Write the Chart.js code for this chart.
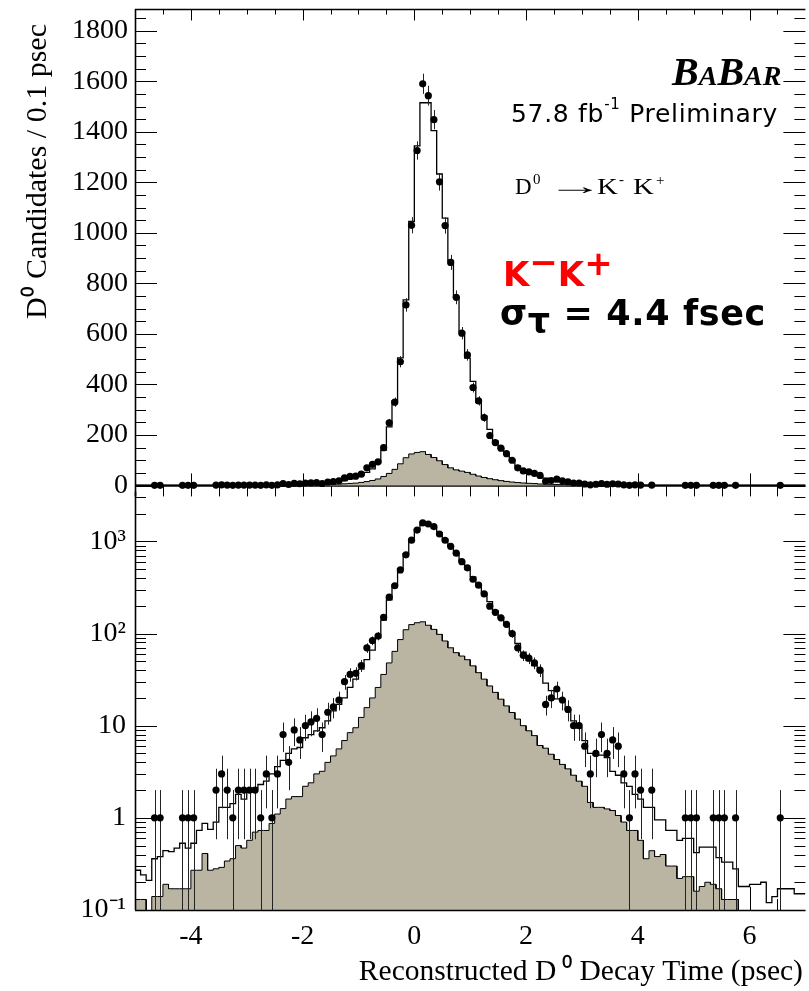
<!DOCTYPE html>
<html><head><meta charset="utf-8">
<script src="https://cdn.jsdelivr.net/npm/chart.js@4.4.1/dist/chart.umd.min.js"></script>
<style>
html,body{margin:0;padding:0;background:#fff;}
#wrap{position:relative;width:809px;height:991px;overflow:hidden;background:#fff;}
#p1{position:absolute;left:0;top:0;width:809px;height:500px;}
#p2{position:absolute;left:0;top:490px;width:809px;height:501px;}
.ann{position:absolute;white-space:nowrap;line-height:1;color:#000;}
.pc{position:absolute;display:block;white-space:nowrap;line-height:1;font-family:'Liberation Serif';color:#000;transform-origin:0 50%;}
</style></head>
<body><div id="wrap">
<div id="p1"><canvas id="c1"></canvas></div>
<div id="p2"><canvas id="c2"></canvas></div>

<div class="ann" style="left:672px;top:48px;font:italic bold 40px 'Liberation Serif';">B<span style="font-size:28px">A</span>B<span style="font-size:28px">AR</span></div>
<div class="ann" style="left:511px;top:99px;font:25px 'DejaVu Sans';letter-spacing:0.7px;">57.8 fb<span style="font-size:15px;position:relative;top:-13px">-1</span> Preliminary</div>

<span class="pc" style="left:515px;top:175px;font-size:23px;">D</span>
<span class="pc" style="left:533px;top:172px;font-size:15px;">0</span>
<span class="pc" style="left:547px;top:174px;font-size:24px;transform:scaleX(2.35);">→</span>
<span class="pc" style="left:597px;top:175px;font-size:23px;transform:scaleX(1.25);">K</span>
<span class="pc" style="left:619px;top:172px;font-size:15px;">-</span>
<span class="pc" style="left:633px;top:175px;font-size:23px;transform:scaleX(1.25);">K</span>
<span class="pc" style="left:656px;top:173px;font-size:15px;">+</span>

<div class="ann" style="left:503px;top:254px;font:bold 34px 'DejaVu Sans';color:#f00;">K<span style="position:relative;top:-12px">−</span>K<span style="position:relative;top:-11px">+</span></div>
<div class="ann" style="left:500px;top:293px;font:bold 35px 'DejaVu Sans';letter-spacing:0.6px;">σ<span style="position:relative;top:8px">τ</span> = 4.4 fsec</div>
</div>
<script>
// ---- data (bins of 0.1 psec) ----
const binCenters = [-4.95,-4.85,-4.75,-4.65,-4.55,-4.45,-4.35,-4.25,-4.15,-4.05,
 -3.95,-3.85,-3.75,-3.65,-3.55,-3.45,-3.35,-3.25,-3.15,-3.05,
 -2.95,-2.85,-2.75,-2.65,-2.55,-2.45,-2.35,-2.25,-2.15,-2.05,
 -1.95,-1.85,-1.75,-1.65,-1.55,-1.45,-1.35,-1.25,-1.15,-1.05,
 -0.95,-0.85,-0.75,-0.65,-0.55,-0.45,-0.35,-0.25,-0.15,-0.05,
 0.05,0.15,0.25,0.35,0.45,0.55,0.65,0.75,0.85,0.95,
 1.05,1.15,1.25,1.35,1.45,1.55,1.65,1.75,1.85,1.95,
 2.05,2.15,2.25,2.35,2.45,2.55,2.65,2.75,2.85,2.95,
 3.05,3.15,3.25,3.35,3.45,3.55,3.65,3.75,3.85,3.95,
 4.05,4.15,4.25,4.35,4.45,4.55,4.65,4.75,4.85,4.95,
 5.05,5.15,5.25,5.35,5.45,5.55,5.65,5.75,5.85,5.95,
 6.05,6.15,6.25,6.35,6.45,6.55,6.65,6.75,6.85,6.95];

const dataCounts = [0,0,0,1,1,0,0,0,1,1,
 1,0,0,0,2,3,2,1,2,2,
 2,2,1,3,1,3,8,4,9,7,
 10,11,12,8,14,16,19,30,36,37,
 45,70,84,94,150,248,330,490,715,1030,
 1326,1590,1543,1448,1202,1029,883,745,603,517,
 388,335,269,198,170,148,126,100,70,58,
 54,48,40,17,20,25,19,15,10,10,
 6,3,5,8,5,7,6,3,1,3,
 2,0,2,0,0,0,0,0,1,1,
 1,0,0,1,1,1,0,1,0,0,
 0,0,0,0,0,1,0,0,0,0];

const totalFit = [0.27,0.24,0.21,0.36,0.38,0.44,0.43,0.47,0.53,0.47,
 0.53,0.73,0.87,0.75,0.9,1.3,1.3,1.43,1.8,1.6,
 1.9,2.1,2.3,2.5,3.0,3.6,4.2,5.0,5.6,5.8,
 7.4,8.0,8.8,9.5,11.3,14.5,17,20,26,32,
 41,52,66,90,140,232,335,505,735,1045,
 1344,1515,1515,1405,1233,1058,891,747,609,504,
 412,330,275,222,176,148,125,101,78,63,
 51,45,39,29,24,19.5,19,15,11.3,9.5,
 6.9,5.0,4.8,4.8,4.5,3.2,2.9,2.4,2.2,1.8,
 1.6,1.3,1.3,0.95,0.95,0.73,0.73,0.57,0.6,0.6,
 0.42,0.48,0.48,0.48,0.37,0.33,0.33,0.28,0.18,0.18,
 0.19,0.19,0.2,0.12,0.14,0.17,0.17,0.17,0.15,0.15];

const background = [0.13,0.13,0,0.14,0.14,0.19,0.17,0.17,0.17,0.17,
 0.27,0.27,0.41,0.27,0.28,0.29,0.34,0.36,0.5,0.47,
 0.57,0.7,0.73,0.73,0.87,1.1,1.26,1.6,1.7,1.7,
 2.2,2.4,3.0,3.2,4.0,4.7,5.6,6.9,8.4,9.5,
 12.3,15.7,20,26,36,48,64,86,110,125,
 131,134,123,111,98,83,70,62,57,52,
 44.6,37.6,32,27,23,19.4,16.4,13.9,11.8,10,
 8.8,7.8,6.1,5.7,4.9,4.3,3.8,3.4,2.9,2.5,
 2.2,1.47,1.3,1.3,1.25,1.2,1.06,0.9,0.73,0.73,
 0.57,0.36,0.44,0.38,0.4,0.3,0.3,0.22,0.23,0.23,
 0.16,0.18,0.2,0.19,0.17,0.13,0.13,0.13,0,0,
 0,0,0,0,0,0,0,0,0,0];

const binHalfWidth = 0.05;
const linTicks = [0,200,400,600,800,1000,1200,1400,1600,1800];
const linTickLabels = ['0','200','400','600','800','1000','1200','1400','1600','1800'];
const logTicks = [0.1,1,10,100,1000];
const logTickLabels = ['10⁻¹','1','10','10²','10³'];
const xTicks = [-4,-2,0,2,4,6];
const xTickLabels = ['-4','-2','0','2','4','6'];
const yTitle = 'D⁰ Candidates / 0.1 psec  ';
const xTitle = 'Reconstructed D\u2009⁰ Decay Time (psec)\u200A';

// ---- helpers building library data ----
function stepPoints(values, floor) {
  const pts = [];
  binCenters.forEach((c, i) => {
    let v = values[i];
    if (floor !== undefined && v <= 0) v = floor;
    pts.push({x: +(c - binHalfWidth).toFixed(3), y: v});
    pts.push({x: +(c + binHalfWidth).toFixed(3), y: v});
  });
  return pts;
}
function dataPoints() {
  const pts = [];
  binCenters.forEach((c, i) => { if (dataCounts[i] > 0) pts.push({x: c, y: dataCounts[i]}); });
  return pts;
}

Chart.defaults.font.family = 'Liberation Serif';
Chart.defaults.color = '#000';

const FILL = '#bab5a2';
const SERIF28 = {family: 'Liberation Serif', size: 28};
const SERIF30 = {family: 'Liberation Serif', size: 30};

// minor tick lists (axis decoration)
const xMinor = []; for (let v = -5; v <= 7.001; v += 0.5) { const r = Math.round(v*10)/10; if (!xTicks.includes(r)) xMinor.push(r); }
const linMinor = []; for (let v = -50; v <= 1900; v += 50) if (v % 200 !== 0) linMinor.push(v);
const logMinor = []; [0.1,1,10,100,1000].forEach(d => { for (let m = 2; m <= 9; m++) logMinor.push(+(m*d).toPrecision(3)); });

function noPad(s) { s.paddingTop = 0; s.paddingBottom = 0; s.paddingLeft = 0; s.paddingRight = 0; }

const axisDecor = {
  id: 'axisDecor',
  beforeDatasetsDraw(chart, args, o) {
    const {ctx, chartArea: a} = chart;
    const xs = chart.scales.x, ys = chart.scales.y;
    ctx.save();
    ctx.strokeStyle = '#000'; ctx.lineWidth = 1;
    ctx.beginPath();
    const xt = (list, len) => list.forEach(v => {
      const p = Math.round(xs.getPixelForValue(v)) + 0.5;
      if (p < a.left || p > a.right) return;
      ctx.moveTo(p, a.bottom); ctx.lineTo(p, a.bottom - len);
      if (o.topTicks) { ctx.moveTo(p, a.top); ctx.lineTo(p, a.top + len * o.topTicks); }
    });
    xt(xTicks, 23); xt(xMinor, 11);
    ctx.stroke();
    if (o.zeroLine) {
      const py = ys.getPixelForValue(0);
      ctx.lineWidth = 2.2;
      ctx.beginPath(); ctx.moveTo(a.left, py); ctx.lineTo(a.right, py); ctx.stroke();
    }
    ctx.restore();
  },
  afterDatasetsDraw(chart, args, o) {
    const {ctx, chartArea: a} = chart;
    const ys = chart.scales.y;
    ctx.save();
    ctx.strokeStyle = '#000'; ctx.lineWidth = 1;
    ctx.beginPath();
    const yt = (list, len) => list.forEach(v => {
      const p = Math.round(ys.getPixelForValue(v)) + 0.5;
      if (p < a.top - 0.6 || p > a.bottom + 0.6) return;
      ctx.moveTo(a.left, p); ctx.lineTo(a.left + len, p);
      ctx.moveTo(a.right, p); ctx.lineTo(a.right - len, p);
    });
    yt(o.yMajor, 22); yt(o.yMinor, 11);
    ctx.stroke();
    ctx.lineWidth = 1.6;
    ctx.beginPath();
    ctx.moveTo(a.left + 0.5, o.frameTop ? a.top : a.top - 2); ctx.lineTo(a.left + 0.5, a.bottom);
    if (o.frameTop) { ctx.moveTo(a.left, a.top + 0.5); ctx.lineTo(a.right, a.top + 0.5); }
    if (o.frameBottom) { ctx.moveTo(a.left, a.bottom + 0.5); ctx.lineTo(a.right, a.bottom + 0.5); }
    ctx.stroke();
    ctx.restore();
  }
};

const errorBars = {
  id: 'errorBars',
  beforeDatasetDraw(chart, args) {
    if (args.index !== 0) return;
    const {ctx, chartArea: a} = chart;
    const xs = chart.scales.x, ys = chart.scales.y;
    const isLog = ys.type === 'logarithmic';
    ctx.save();
    ctx.beginPath(); ctx.rect(a.left, a.top, a.right - a.left, a.bottom - a.top); ctx.clip();
    ctx.strokeStyle = '#222'; ctx.lineWidth = 1;
    ctx.beginPath();
    chart.data.datasets[0].data.forEach(p => {
      const e = Math.sqrt(p.y);
      const lo = p.y - e, hi = p.y + e;
      const px = Math.round(xs.getPixelForValue(p.x)) + 0.5;
      const pLo = (isLog && lo <= 0) ? a.bottom + 2 : ys.getPixelForValue(lo);
      ctx.moveTo(px, pLo); ctx.lineTo(px, ys.getPixelForValue(hi));
    });
    ctx.stroke();
    ctx.restore();
  }
};

function makeDatasets(isLog) {
  const floor = isLog ? 1e-4 : undefined;
  return [
    { label: 'Data', data: dataPoints(), showLine: false, pointRadius: 3.6, pointHoverRadius: 3.6,
      pointBackgroundColor: '#000', pointBorderWidth: 0, borderColor: '#000' },
    { label: 'Total fit', data: stepPoints(totalFit, floor), borderColor: '#000', borderWidth: 1.3,
      pointRadius: 0, fill: false, tension: 0 },
    { label: 'Background', data: stepPoints(background, floor), borderColor: '#000', borderWidth: 1,
      backgroundColor: FILL, pointRadius: 0, fill: isLog ? 'start' : 'origin', tension: 0 }
  ];
}

const common = {
  responsive: true, maintainAspectRatio: false, animation: false, devicePixelRatio: 1,
  events: [],
};

// ---- top (linear) panel ----
new Chart(document.getElementById('c1'), {
  type: 'line',
  data: { datasets: makeDatasets(false) },
  options: Object.assign({}, common, {
    layout: { padding: { top: 9, right: 0, bottom: 1, left: 0 } },
    plugins: { legend: {display: false}, tooltip: {enabled: false},
      axisDecor: { yMajor: linTicks, yMinor: linMinor, topTicks: 0.5, zeroLine: true, frameTop: true, frameBottom: false } },
    scales: {
      x: { type: 'linear', min: -5, max: 7, display: false },
      y: { type: 'linear', min: -43, max: 1886,
        afterBuildTicks: s => { s.ticks = linTicks.map(v => ({value: v})); },
        afterFit: s => { s.width = 135; noPad(s); },
        grid: { display: false, drawTicks: false }, border: { display: false },
        ticks: { font: SERIF28, color: '#000', padding: 7, callback: v => linTickLabels[linTicks.indexOf(v)] },
        title: { display: true, text: yTitle, font: SERIF30, color: '#000', align: 'end', padding: { top: 20, bottom: 0 } } }
    }
  }),
  plugins: [axisDecor, errorBars]
});

// ---- bottom (log) panel ----
new Chart(document.getElementById('c2'), {
  type: 'line',
  data: { datasets: makeDatasets(true) },
  options: Object.assign({}, common, {
    layout: { padding: { top: 2, right: 0, bottom: 0, left: 0 } },
    plugins: { legend: {display: false}, tooltip: {enabled: false},
      axisDecor: { yMajor: logTicks, yMinor: logMinor, topTicks: 0, zeroLine: false, frameTop: false, frameBottom: true } },
    scales: {
      x: { type: 'linear', min: -5, max: 7,
        afterBuildTicks: s => { s.ticks = xTicks.map(v => ({value: v})); },
        afterFit: s => { s.height = 81; noPad(s); },
        grid: { display: false, drawTicks: false }, border: { display: false },
        ticks: { font: SERIF28, color: '#000', padding: 10, maxRotation: 0, autoSkip: false,
          callback: v => xTickLabels[xTicks.indexOf(v)] },
        title: { display: true, text: xTitle, font: {family: 'Liberation Serif', size: 29.5}, color: '#000', align: 'end', padding: { top: 0, bottom: 1 } } },
      y: { type: 'logarithmic', min: 0.1, max: 3300,
        afterBuildTicks: s => { s.ticks = logTicks.map(v => ({value: v})); },
        afterFit: s => { s.width = 135; noPad(s); },
        grid: { display: false, drawTicks: false }, border: { display: false },
        ticks: { font: SERIF28, color: '#000', padding: 9,
          callback: v => { const k = logTicks.findIndex(t => Math.abs(t - v) < 1e-9 * Math.max(1, t)); return k >= 0 ? logTickLabels[k] : ''; } } }
    }
  }),
  plugins: [axisDecor, errorBars]
});
</script>
</body></html>
